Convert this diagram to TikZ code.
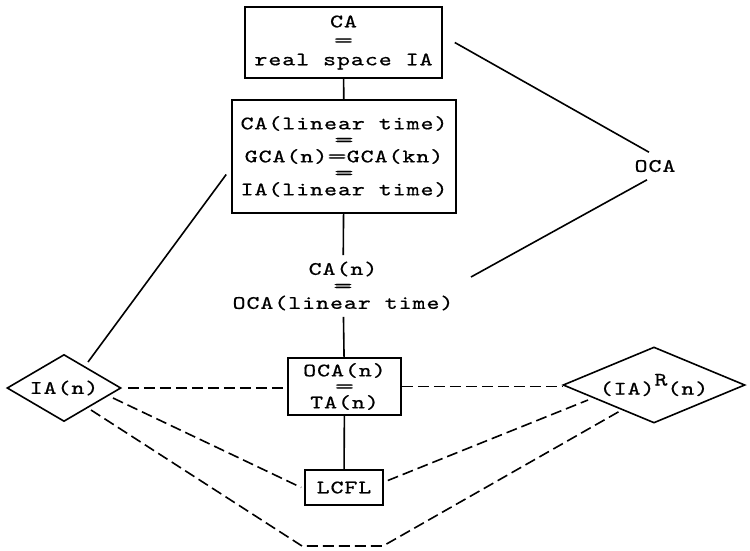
\documentclass[tikz,border=0pt]{standalone}
\usepackage{fontspec}
\usepackage{graphicx}
\newfontfamily\tw[Extension=.otf,LetterSpace=5,FakeStretch=1.3,FakeBold=0.7]{lmmono10-regular}
\newcommand\weq{\scalebox{1.5}[1]{=}}
\usetikzlibrary{shapes.geometric}
\begin{document}
\begin{tikzpicture}[x=1pt,y=-1pt, line width=1.6pt,
  lab/.style={font=\tw\fontsize{19}{17}\selectfont, align=center, inner sep=0pt},
  bx/.style={lab, draw, rectangle},
  dia/.style={lab, draw, diamond},
  dsh/.style={dash pattern=on 11pt off 5pt}]
\useasboundingbox (0,0) rectangle (750,550);
\node[bx, minimum width=197pt, minimum height=71pt, font=\tw\fontsize{19}{19}\selectfont] (b1) at (343.5,42.5) {CA\\\weq\\real space IA};
\node[bx, minimum width=224pt, minimum height=113pt, font=\tw\fontsize{19}{16.5}\selectfont] (b2) at (344,156.5) {CA(linear time)\\\weq\\GCA(n)\weq GCA(kn)\\\weq\\IA(linear time)};
\node[lab, minimum height=60pt] (b3t) at (343,286) {CA(n)\\\weq\\OCA(linear time)};
\node[bx, minimum width=113pt, minimum height=57pt, font=\tw\fontsize{19}{16}\selectfont] (b4) at (344.5,386.5) {OCA(n)\\\weq\\TA(n)};
\node[bx, minimum width=78pt, minimum height=35pt] (lcfl) at (344,487.5) {LCFL};
\node[dia, aspect=1.7, minimum width=114pt, minimum height=67pt] (ia) at (64,388) {IA(n)};
\node[dia, aspect=2.4, minimum width=182pt, minimum height=76pt] (ir) at (654,385) {(IA)\raisebox{9pt}{R}(n)};
\node[lab, minimum height=26pt] (oca) at (655,166) {OCA};
\coordinate (bl) at (302,546);
\coordinate (br) at (383,546);
% solid connectors
\draw (b1) -- (b2);
\draw (b2) -- (b3t);
\draw (b3t) -- (b4);
\draw (b4) -- (lcfl);
\draw ([xshift=12pt]b1.east) -- ([xshift=-6pt]oca.north);
\draw ([xshift=-8pt]oca.south) -- ([shift={(128,-9)}]b3t.center);
\draw ([shift={(-5,18)}]b2.west) -- ([shift={(24,-26)}]ia.center);
% dashed connectors
\draw[dsh] ([xshift=6pt]ia.east) -- (ia.east -| b4.west);
\draw[dsh] (b4.east) -- (b4.east -| ir.west);
\draw[dsh] ([shift={(49,10)}]ia.center) -- ([xshift=-3pt]lcfl.west);
\draw[dsh] ([shift={(4,-7)}]lcfl.east) -- ([shift={(-66,15)}]ir.center);
\draw[dsh] ([shift={(27,22)}]ia.center) -- (bl) -- (br) -- ([shift={(-34,26)}]ir.center);
\end{tikzpicture}
\end{document}
